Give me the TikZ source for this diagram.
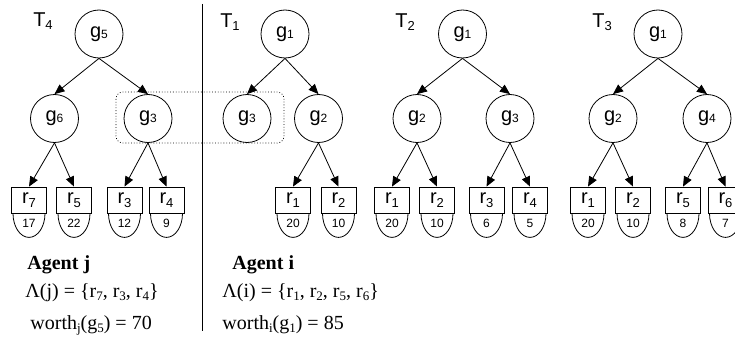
\documentclass[tikz,border=0pt]{standalone}
\usepackage{fontspec}
\setmainfont{Liberation Serif}
\setsansfont{Liberation Sans}
\usetikzlibrary{arrows.meta}
\newcommand{\gsub}[1]{\raisebox{-1pt}{\fontsize{12}{12}\selectfont #1}}
\newcommand{\lowsub}[1]{\raisebox{-4pt}{\fontsize{13}{13}\selectfont #1}}
\newcommand{\tsub}[1]{\raisebox{-3pt}{\fontsize{13}{13}\selectfont #1}}
\newcommand{\valcup}[2]{%
  \draw ([xshift=-16pt]#1.south) arc[start angle=180,end angle=360,x radius=16pt,y radius=24pt];
  \node[valtext] (#1v) at ([yshift=-10pt]#1.south) {#2};}
\begin{document}
\begin{tikzpicture}[x=1pt,y=-1pt,line width=0.8pt,
    goal/.style={draw,circle,minimum size=48pt,inner sep=0pt,font=\sffamily\fontsize{20}{20}\selectfont},
    res/.style={draw,rectangle,minimum width=35pt,minimum height=26pt,inner sep=0pt,font=\sffamily\fontsize{20}{20}\selectfont},
    valtext/.style={inner sep=0pt,font=\sffamily\fontsize{12}{12}\selectfont},
    tlabel/.style={inner sep=0pt,font=\sffamily\fontsize{20}{20}\selectfont},
    info/.style={inner sep=0pt,anchor=base west,font=\fontsize{20}{24}\selectfont},
    arr/.style={-{Triangle[length=10pt,width=8.5pt]}}]
\useasboundingbox (0,0) rectangle (735,337);

% agent j : tree T4
\node[tlabel] (t4) at (43,21) {T\tsub{4}};
\node[goal] (t4g5) at (99,34) {g\gsub{5}};
\node[goal] (t4g6) at (54.5,118.5) {g\gsub{6}};
\node[goal] (t4g3) at (148,118.5) {g\gsub{3}};
\node[res] (t4r7) at (29,200) {r\lowsub{7}};
\node[res] (t4r5) at (74,200) {r\lowsub{5}};
\node[res] (t4r3) at (124.5,200) {r\lowsub{3}};
\node[res] (t4r4) at (166.5,200) {r\lowsub{4}};
\draw[arr] (t4g5.south) -- (t4g6.north);
\draw[arr] (t4g5.south) -- (t4g3.north);
\draw[arr] (t4g6.south) -- (t4r7.north);
\draw[arr] (t4g6.south) -- (t4r5.north);
\draw[arr] (t4g3.south) -- (t4r3.north);
\draw[arr] (t4g3.south) -- (t4r4.north);
\valcup{t4r7}{17}
\valcup{t4r5}{22}
\valcup{t4r3}{12}
\valcup{t4r4}{9}

% separator
\draw (202,4) -- (202,331);

% agent i : tree T1
\node[tlabel] (t1) at (230,22) {T\tsub{1}};
\node[goal] (t1g1) at (285,34) {g\gsub{1}};
\node[goal] (t1g3) at (247,118.5) {g\gsub{3}};
\node[goal] (t1g2) at (318.5,118.5) {g\gsub{2}};
\node[res] (t1r1) at (293,200) {r\lowsub{1}};
\node[res] (t1r2) at (338.5,200) {r\lowsub{2}};
\draw[arr] (t1g1.south) -- (t1g3.north);
\draw[arr] (t1g1.south) -- (t1g2.north);
\draw[arr] (t1g2.south) -- (t1r1.north);
\draw[arr] (t1g2.south) -- (t1r2.north);
\valcup{t1r1}{20}
\valcup{t1r2}{10}

% shared goal g3
\draw[dotted,rounded corners=7pt] (116,92) rectangle (284,143);

% tree T2
\node[tlabel] (t2) at (405,22) {T\tsub{2}};
\node[goal] (t2g1) at (462.5,34) {g\gsub{1}};
\node[goal] (t2g2) at (417,118.5) {g\gsub{2}};
\node[goal] (t2g3) at (510,118.5) {g\gsub{3}};
\node[res] (t2r1) at (392,200) {r\lowsub{1}};
\node[res] (t2r2) at (437,200) {r\lowsub{2}};
\node[res] (t2r3) at (486.5,200) {r\lowsub{3}};
\node[res] (t2r4) at (530,200) {r\lowsub{4}};
\draw[arr] (t2g1.south) -- (t2g2.north);
\draw[arr] (t2g1.south) -- (t2g3.north);
\draw[arr] (t2g2.south) -- (t2r1.north);
\draw[arr] (t2g2.south) -- (t2r2.north);
\draw[arr] (t2g3.south) -- (t2r3.north);
\draw[arr] (t2g3.south) -- (t2r4.north);
\valcup{t2r1}{20}
\valcup{t2r2}{10}
\valcup{t2r3}{6}
\valcup{t2r4}{5}

% tree T3
\node[tlabel] (t3) at (602,22) {T\tsub{3}};
\node[goal] (t3g1) at (658,34) {g\gsub{1}};
\node[goal] (t3g2) at (613,118.5) {g\gsub{2}};
\node[goal] (t3g4) at (707,118.5) {g\gsub{4}};
\node[res] (t3r1) at (588,200) {r\lowsub{1}};
\node[res] (t3r2) at (633,200) {r\lowsub{2}};
\node[res] (t3r5) at (683,200) {r\lowsub{5}};
\node[res] (t3r6) at (725.5,200) {r\lowsub{6}};
\draw[arr] (t3g1.south) -- (t3g2.north);
\draw[arr] (t3g1.south) -- (t3g4.north);
\draw[arr] (t3g2.south) -- (t3r1.north);
\draw[arr] (t3g2.south) -- (t3r2.north);
\draw[arr] (t3g4.south) -- (t3r5.north);
\draw[arr] (t3g4.south) -- (t3r6.north);
\valcup{t3r1}{20}
\valcup{t3r2}{10}
\valcup{t3r5}{8}
\valcup{t3r6}{7}

% agents
\node[info] (agj) at (27,269) {\textbf{Agent j}};
\node[info] (lamj) at (25,297) {Λ(j) = \{r\tsub{7}, r\tsub{3}, r\tsub{4}\}};
\node[info] (worj) at (30,329) {worth\tsub{j}(g\tsub{5}) = 70};
\node[info] (agi) at (232,269) {\textbf{Agent i}};
\node[info] (lami) at (222,297) {Λ(i) = \{r\tsub{1}, r\tsub{2}, r\tsub{5}, r\tsub{6}\}};
\node[info] (wori) at (222,329) {worth\tsub{i}(g\tsub{1}) = 85};
\end{tikzpicture}
\end{document}
